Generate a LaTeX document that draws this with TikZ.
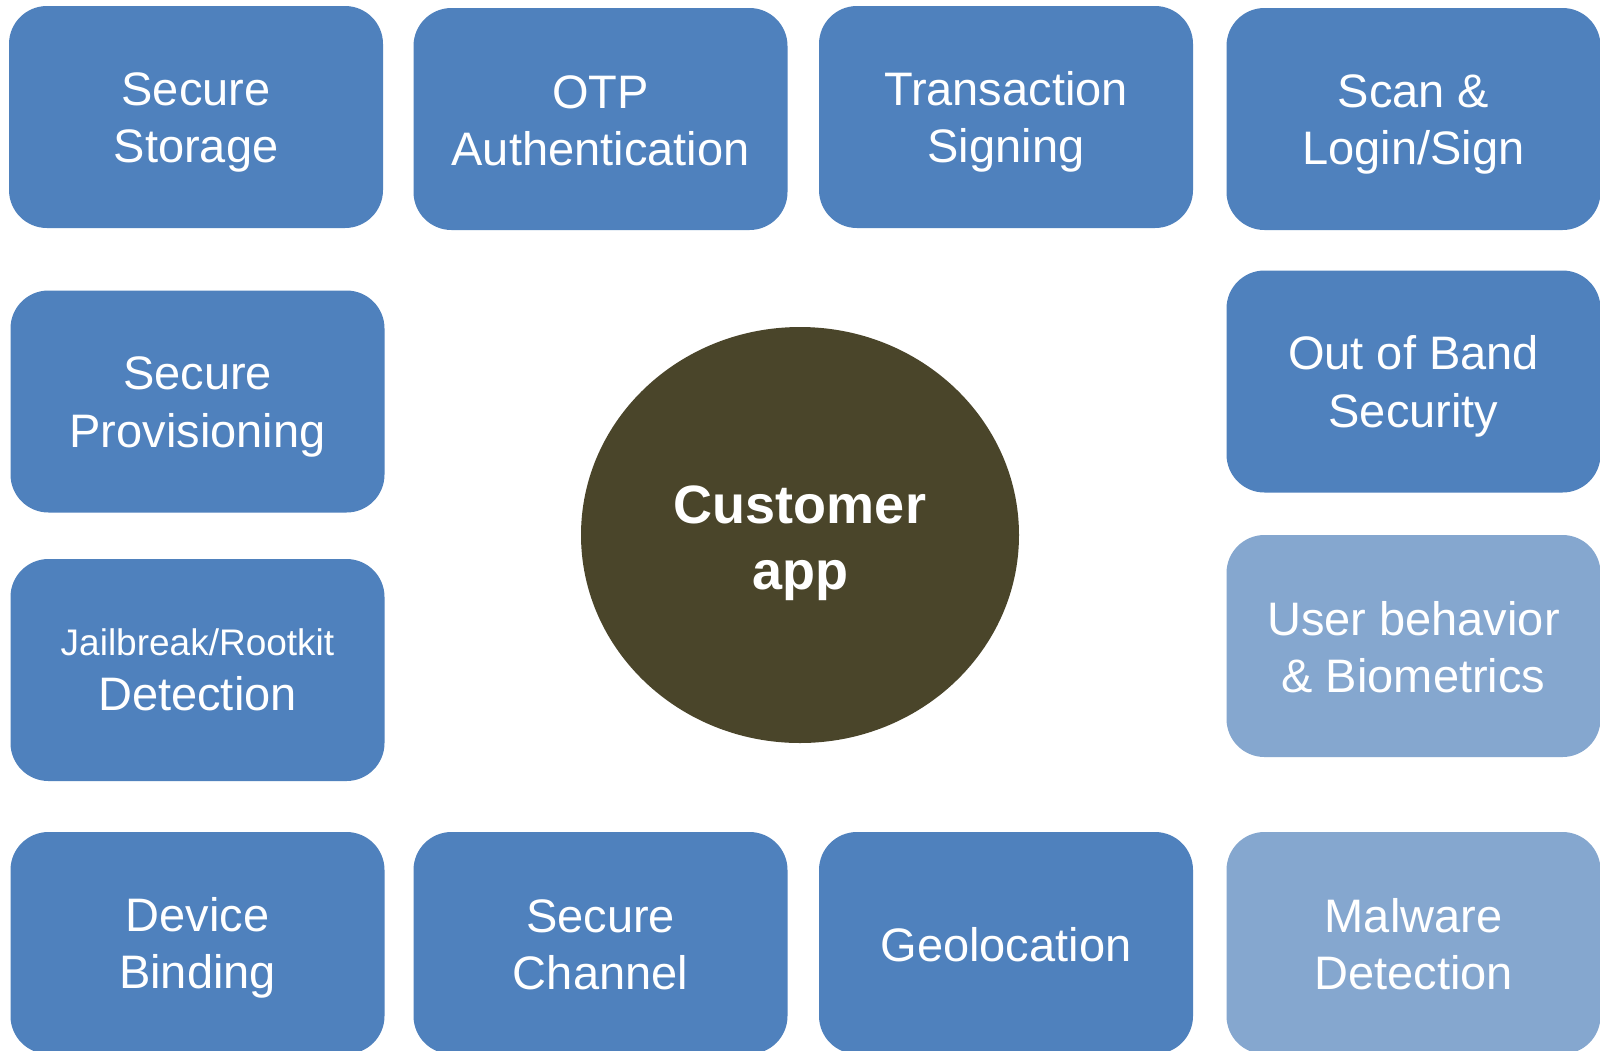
\documentclass[tikz,border=0pt]{standalone}
\usepackage{fontspec}
\setmainfont{Liberation Sans}
\usetikzlibrary{shapes.geometric}
\definecolor{blueA}{HTML}{4F81BD}
\definecolor{blueL}{HTML}{85A7CF}
\definecolor{brownC}{HTML}{4A452A}
\newcommand{\bigf}{\fontsize{47}{57.5}\selectfont}
\newcommand{\smallf}{\fontsize{37}{44}\selectfont}
% struts so that every line box has the same height and depth
\newcommand{\lstr}{\rule[-8pt]{0pt}{52pt}}
\newcommand{\sstr}{\rule[-8pt]{0pt}{41pt}}
\newcommand{\cstr}{\rule[-11pt]{0pt}{65pt}}
\begin{document}
\begin{tikzpicture}[x=1pt,y=-1pt,
  box/.style={rectangle, rounded corners=38pt, fill=blueA, draw=none,
    minimum width=374pt, minimum height=222pt, inner sep=0pt,
    text=white, align=center, font=\bigf},
  lbox/.style={box, fill=blueL},
  app/.style={ellipse, fill=brownC, draw=none, minimum width=438pt,
    minimum height=416pt, inner sep=0pt, text=white, align=center,
    font=\fontsize{54}{66}\selectfont\bfseries}]
\clip (0,0) rectangle (1600,1050);
\fill[white] (0,0) rectangle (1600,1050);
% top row
\node[box] (ss)   at (196,117)    {\lstr Secure\\\lstr Storage};
\node[box] (otp)  at (600.5,119)  {\lstr OTP\\\lstr Authentication};
\node[box] (ts)   at (1006,117)   {\lstr Transaction\\\lstr Signing};
\node[box] (scan) at (1413.5,119) {\lstr Scan \&\\\lstr Login/Sign};
% middle rows
\node[box] (prov) at (197.5,401.5) {\lstr Secure\\\lstr Provisioning};
\node[box] (oob)  at (1413.5,381.5) {\lstr Out of Band\\\lstr Security};
\node[box] (jb)   at (197.5,670) {{\smallf\sstr Jailbreak/Rootkit}\\[-2.5pt]\lstr Detection};
\node[lbox] (ub)  at (1413.5,646) {\lstr User behavior\\\lstr\& Biometrics};
% bottom row
\node[box] (db)   at (197.5,943) {\lstr Device\\\lstr Binding};
\node[box] (sc)   at (600.5,943) {\lstr Secure\\\lstr Channel};
\node[box] (geo)  at (1006,943)  {\lstr Geolocation};
\node[lbox] (mal) at (1413.5,943) {\lstr Malware\\\lstr Detection};
% centre
\node[app] (capp) at (800,535) {\cstr Customer\\\cstr app};
\end{tikzpicture}
\end{document}
